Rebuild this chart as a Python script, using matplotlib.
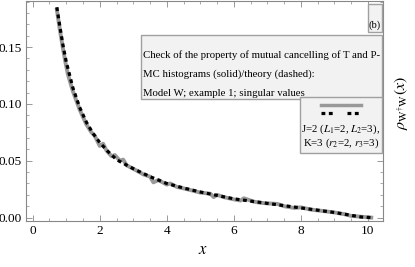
import matplotlib.pyplot as plt
from matplotlib.patches import Rectangle
from matplotlib.ticker import MultipleLocator

plt.rcParams['font.family'] = ['Liberation Serif', 'DejaVu Serif']
plt.rcParams['mathtext.fontset'] = 'stix'

# theory curve (dashed)
x_theory = [0.72, 0.8, 0.9, 1.0, 1.2, 1.4, 1.6, 1.8, 2.0, 2.25, 2.5, 2.75, 3.0,
            3.5, 4.0, 4.5, 5.0, 5.5, 6.0, 6.5, 7.0, 7.5, 8.0, 8.5, 9.0, 9.3,
            9.6, 9.8, 10.1]
rho_theory = [0.185, 0.170, 0.152, 0.137, 0.114, 0.097, 0.084, 0.074, 0.066,
              0.058, 0.051, 0.047, 0.043, 0.036, 0.030, 0.026, 0.0225, 0.0195,
              0.0165, 0.0145, 0.0125, 0.0105, 0.0085, 0.0065, 0.0045, 0.003,
              0.0015, 0.0005, 0.0]

# MC histogram (solid)
x_mc = [0.72, 0.8, 0.9, 0.98, 1.05, 1.2, 1.4, 1.6, 1.75, 1.85, 2.0, 2.1, 2.2,
        2.35, 2.45, 2.6, 2.7, 2.8, 3.0, 3.3, 3.5, 3.6, 3.75, 4.0, 4.1, 4.3,
        4.6, 5.0, 5.3, 5.4, 5.5, 5.7, 6.0, 6.2, 6.3, 6.6, 6.8, 7.0, 7.3, 7.5,
        7.8, 8.0, 8.3, 8.6, 9.0, 9.3, 9.5, 9.7, 10.1]
rho_mc = [0.183, 0.167, 0.149, 0.136, 0.126, 0.111, 0.095, 0.082, 0.075,
          0.072, 0.063, 0.065, 0.059, 0.054, 0.055, 0.050, 0.051, 0.046,
          0.043, 0.038, 0.036, 0.031, 0.033, 0.029, 0.030, 0.027, 0.025,
          0.022, 0.021, 0.018, 0.020, 0.018, 0.016, 0.015, 0.017, 0.014,
          0.013, 0.0125, 0.012, 0.010, 0.0085, 0.009, 0.007, 0.006, 0.0045,
          0.003, 0.0015, 0.001, 0.0]

W, H = 415, 267
fig = plt.figure(figsize=(W / 100, H / 100), dpi=100)
ax = fig.add_axes([26 / W, 1 - 221 / H, 357 / W, 220 / H])

ax.plot(x_mc, rho_mc, color='#999999', lw=2.8, zorder=2)
ax.plot(x_theory, rho_theory, color='black', lw=2.3, ls=(0, (1.2, 1.1)), zorder=3)

ax.set_xlim(-0.2, 10.45)
ax.set_ylim(-0.003, 0.1905)
ax.xaxis.set_major_locator(MultipleLocator(2))
ax.xaxis.set_minor_locator(MultipleLocator(0.5))
ax.yaxis.set_major_locator(MultipleLocator(0.05))
ax.yaxis.set_minor_locator(MultipleLocator(0.01))
ax.yaxis.set_major_formatter(plt.FuncFormatter(lambda v, p: f'{v:.2f}'))
ax.tick_params(which='both', direction='in', top=True, right=True,
               color='#888888', labelsize=9.5, pad=3)
ax.tick_params(which='major', length=4, width=0.6)
ax.tick_params(which='minor', length=2, width=0.5)
for s in ax.spines.values():
    s.set_color('#888888')
    s.set_linewidth(0.8)

fig.text(203 / W, 1 - 250 / H, '$x$', fontsize=12, ha='center', va='center')
fig.text(401 / W, 1 - 103 / H, r'$\rho_{\mathrm{W}^{\dagger}\mathrm{W}}(x)$',
         fontsize=11.5, rotation=90, ha='center', va='center')


def box(x0, y0, x1, y1):
    fig.patches.append(Rectangle((x0 / W, 1 - y1 / H), (x1 - x0) / W, (y1 - y0) / H,
                                 transform=fig.transFigure, facecolor='#f2f2f2',
                                 edgecolor='#a0a0a0', lw=1.0, zorder=5))


def fit(texts, width):
    # scale font so the first text gets the wanted pixel width
    fig.canvas.draw()
    w = texts[0].get_window_extent().width
    size = texts[0].get_fontsize() * width / w
    for t in texts:
        t.set_fontsize(size)


box(368, 4, 382, 32)
tb = fig.text(375 / W, 1 - 25 / H, '(b)', fontsize=8, ha='center', va='center', zorder=6)

box(141, 35, 382, 99)
lines = ['Check of the property of mutual cancelling of T and P-',
         'MC histograms (solid)/theory (dashed):',
         'Model W; example 1; singular values']
note = []
for i, t in enumerate(lines):
    note.append(fig.text(143 / W, 1 - (55 + 19 * i) / H, t, fontsize=8, ha='left',
                         va='center', zorder=6))

box(300, 97, 382, 153)
fig.add_artist(plt.Line2D([321 / W, 361 / W], [1 - 105 / H, 1 - 105 / H],
                          color='#999999', lw=2.5, zorder=6))
for a, b in [(321, 335), (347, 361)]:
    fig.add_artist(plt.Line2D([a / W, b / W], [1 - 113 / H, 1 - 113 / H],
                              color='black', lw=2.3, ls=(0, (1.2, 1.1)), zorder=6))
leg = [fig.text(341 / W, 1 - 129 / H, 'J=2 ($L_1$=2, $L_2$=3),', fontsize=8,
                ha='center', va='center', zorder=6),
       fig.text(341 / W, 1 - 143 / H, 'K=3 ($r_2$=2, $r_3$=3)', fontsize=8,
                ha='center', va='center', zorder=6)]

fit(note, 236)
fit(leg, 79)
fit([tb], 12)

fig.savefig('out.png', dpi=100)
